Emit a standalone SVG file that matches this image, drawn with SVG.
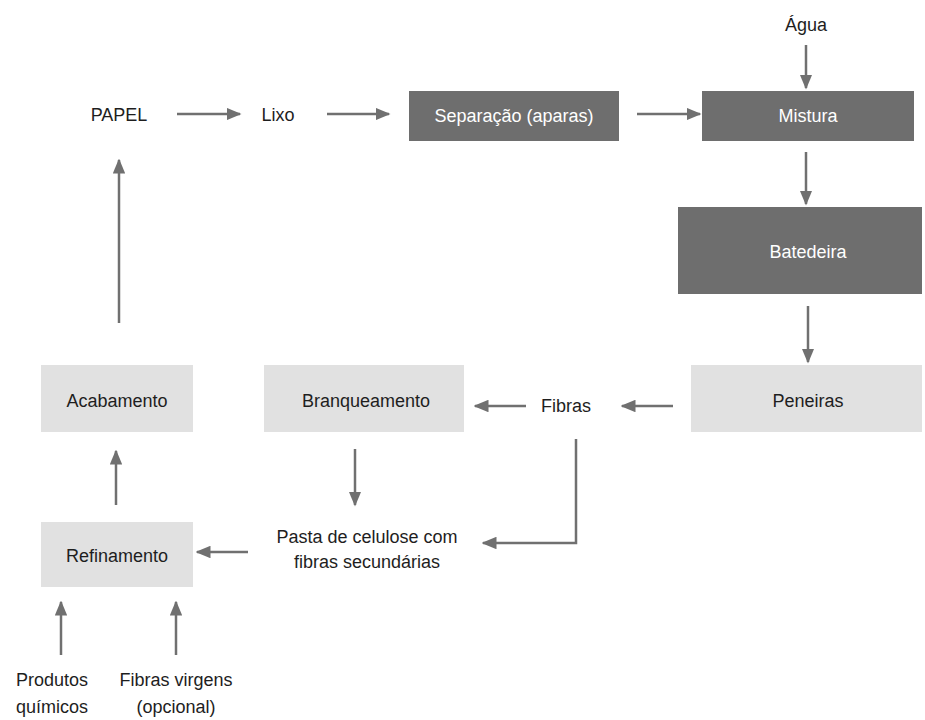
<svg xmlns="http://www.w3.org/2000/svg" width="925" height="720" viewBox="0 0 925 720">
<defs>
<style>
.t{font-family:"Liberation Sans",Arial,sans-serif;font-size:18px;fill:#1e1e1e;text-anchor:middle;dominant-baseline:central}
.w{fill:#ffffff}
.dark{fill:#6e6e6e}
.light{fill:#e1e1e1}
.c{stroke:#707070;stroke-width:2.5;fill:none;marker-end:url(#ah)}
</style>
<marker id="ah" viewBox="0 0 10 10" refX="9" refY="5" markerWidth="6" markerHeight="5" orient="auto" markerUnits="strokeWidth" preserveAspectRatio="none">
<path d="M0,0 L10,5 L0,10 z" fill="#707070"/>
</marker>
</defs>
<rect width="925" height="720" fill="#ffffff"/>
<g id="agua"><text class="t" x="806" y="25">Água</text></g>
<g id="papel"><text class="t" x="119" y="115">PAPEL</text></g>
<g id="lixo"><text class="t" x="278" y="115">Lixo</text></g>
<g id="separacao"><rect class="dark" x="409" y="91" width="210" height="50"/><text class="t w" x="514" y="116">Separação (aparas)</text></g>
<g id="mistura"><rect class="dark" x="702" y="91" width="212" height="50"/><text class="t w" x="808" y="116">Mistura</text></g>
<g id="batedeira"><rect class="dark" x="678" y="207" width="244" height="87"/><text class="t w" x="808" y="252">Batedeira</text></g>
<g id="peneiras"><rect class="light" x="691" y="365" width="231" height="67"/><text class="t" x="808" y="401">Peneiras</text></g>
<g id="fibras"><text class="t" x="566" y="406">Fibras</text></g>
<g id="branqueamento"><rect class="light" x="264" y="365" width="200" height="67"/><text class="t" x="366" y="401">Branqueamento</text></g>
<g id="acabamento"><rect class="light" x="41" y="365" width="152" height="67"/><text class="t" x="117" y="401">Acabamento</text></g>
<g id="pasta"><text class="t" x="367" y="537">Pasta de celulose com</text><text class="t" x="367" y="562">fibras secundárias</text></g>
<g id="refinamento"><rect class="light" x="41" y="522" width="152" height="65"/><text class="t" x="117" y="556">Refinamento</text></g>
<g id="produtos"><text class="t" x="52" y="680">Produtos</text><text class="t" x="52" y="707">químicos</text></g>
<g id="fibrasvirgens"><text class="t" x="176" y="680">Fibras virgens</text><text class="t" x="176" y="707">(opcional)</text></g>
<g id="connectors">
<path class="c" d="M806,45 V88"/>
<path class="c" d="M177,114 H240"/>
<path class="c" d="M327,114 H389"/>
<path class="c" d="M637,114 H700"/>
<path class="c" d="M806,152 V204"/>
<path class="c" d="M808,306 V362"/>
<path class="c" d="M673,406 H622"/>
<path class="c" d="M526,406 H475"/>
<path class="c" d="M576,439 V543 H483"/>
<path class="c" d="M355,449 V505"/>
<path class="c" d="M248,552 H197"/>
<path class="c" d="M116,505 V451"/>
<path class="c" d="M119,323 V160"/>
<path class="c" d="M61,655 V602"/>
<path class="c" d="M176,655 V602"/>
</g>
</svg>
